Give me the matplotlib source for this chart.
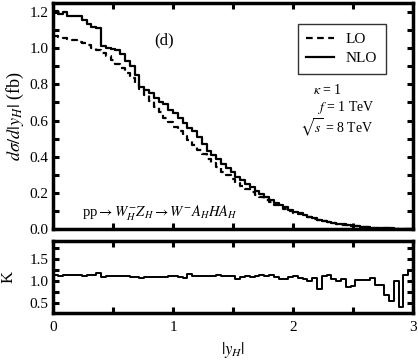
import numpy as np
import matplotlib
matplotlib.use("Agg")
import matplotlib.pyplot as plt
from matplotlib.ticker import MultipleLocator, FormatStrFormatter

plt.rcParams['font.family'] = ['Liberation Serif', 'DejaVu Serif']
plt.rcParams['mathtext.fontset'] = 'stix'

# bin edges in |y_H| (75 bins of 0.04)
edges = np.round(np.linspace(0, 3.0, 76), 3)

# d sigma / d|y_H| (fb)
nlo = [1.205, 1.19, 1.20, 1.175, 1.175, 1.175, 1.155, 1.135, 1.115, 1.11,
       1.01, 1.00, 0.995, 0.99, 0.965, 0.93, 0.90, 0.85, 0.785, 0.77,
       0.75, 0.725, 0.705, 0.69, 0.66, 0.64, 0.615, 0.585, 0.56, 0.54,
       0.51, 0.47, 0.43, 0.41, 0.385, 0.36, 0.34, 0.315, 0.29, 0.27,
       0.25, 0.232, 0.213, 0.195, 0.178, 0.162, 0.147, 0.133, 0.12, 0.108,
       0.097, 0.087, 0.077, 0.068, 0.060, 0.053, 0.046, 0.040, 0.035, 0.030,
       0.026, 0.022, 0.019, 0.016, 0.013, 0.011, 0.009, 0.0075, 0.006, 0.005,
       0.004, 0.003, 0.0025, 0.002, 0.0015]
lo = [1.066, 1.062, 1.057, 1.05, 1.043, 1.035, 1.026, 1.015, 1.002, 0.988,
      0.972, 0.955, 0.936, 0.914, 0.89, 0.865, 0.835, 0.805, 0.772, 0.74,
      0.708, 0.677, 0.646, 0.616, 0.59, 0.565, 0.54, 0.515, 0.49, 0.465,
      0.44, 0.414, 0.388, 0.364, 0.341, 0.318, 0.297, 0.277, 0.257, 0.239,
      0.221, 0.205, 0.19, 0.175, 0.161, 0.148, 0.136, 0.124, 0.113, 0.101,
      0.091, 0.082, 0.073, 0.065, 0.058, 0.051, 0.045, 0.039, 0.034, 0.029,
      0.025, 0.021, 0.018, 0.015, 0.013, 0.011, 0.009, 0.0075, 0.006, 0.005,
      0.004, 0.003, 0.0025, 0.002, 0.0015]
# K factor panel
kfac = [1.13, 1.12, 1.13, 1.14, 1.13, 1.14, 1.12, 1.13, 1.14, 1.18,
        1.10, 1.11, 1.11, 1.12, 1.12, 1.11, 1.10, 1.09, 1.06, 1.09,
        1.10, 1.10, 1.09, 1.10, 1.11, 1.12, 1.10, 1.08, 1.16, 1.11,
        1.12, 1.12, 1.11, 1.12, 1.13, 1.12, 1.11, 1.12, 1.04, 1.10,
        1.11, 1.10, 1.12, 1.13, 1.12, 1.13, 1.10, 1.05, 1.05, 1.10,
        1.12, 1.08, 1.05, 1.00, 1.07, 0.83, 1.12, 1.14, 1.05, 1.00,
        1.05, 0.86, 0.88, 1.03, 1.03, 1.03, 1.08, 0.92, 0.92, 0.68,
        0.55, 1.00, 0.42, 1.14, 1.25]


def steps(vals):
    return np.append(vals, vals[-1])


fig = plt.figure(figsize=(4.18, 3.62), dpi=100)
ax1 = fig.add_axes([0.127, 0.367, 0.861, 0.625])
ax2 = fig.add_axes([0.127, 0.135, 0.861, 0.199])

ax1.step(edges, steps(lo), where='post', color='black', lw=1.6, ls=(0, (3, 2)))
ax1.step(edges, steps(nlo), where='post', color='black', lw=1.6)
ax2.step(edges, steps(kfac), where='post', color='black', lw=1.4)

ax1.set_xlim(0, 3)
ax1.set_ylim(0, 1.25)
ax2.set_xlim(0, 3)
ax2.set_ylim(0.28, 1.9)

for ax in (ax1, ax2):
    ax.xaxis.set_major_locator(MultipleLocator(1))
    ax.xaxis.set_minor_locator(MultipleLocator(0.5))
    ax.tick_params(which='both', direction='in', top=True, right=True,
                   width=2.2, length=4, labelsize=11)
    for s in ax.spines.values():
        s.set_linewidth(2.5)

ax1.yaxis.set_major_locator(MultipleLocator(0.2))
ax1.yaxis.set_minor_locator(MultipleLocator(0.1))
ax1.yaxis.set_major_formatter(FormatStrFormatter('%.1f'))
ax1.tick_params(labelbottom=False)
ax2.yaxis.set_major_locator(MultipleLocator(0.5))
ax2.yaxis.set_minor_locator(MultipleLocator(0.25))
ax2.yaxis.set_major_formatter(FormatStrFormatter('%.1f'))
ax2.tick_params(axis='x', pad=6)

ax1.set_ylabel(r'$d\sigma/d|y_H|$ (fb)', fontsize=13, labelpad=2)
ax2.set_ylabel('K', fontsize=12, labelpad=9)
ax2.set_xlabel(r'$|y_H|$', fontsize=12, labelpad=4)

ax1.text(0.84, 1.02, '(d)', fontsize=12)
leg = ax1.legend(['LO', 'NLO'], loc='upper right', bbox_to_anchor=(0.945, 0.94),
                 fontsize=11, frameon=True, fancybox=False, edgecolor='black',
                 handlelength=1.8, borderpad=0.55, labelspacing=0.35)
leg.get_frame().set_linewidth(1.0)
ax1.text(2.17, 0.745, r'$\kappa$ = 1', fontsize=10)
ax1.text(2.2, 0.65, r'$f$ = 1 TeV', fontsize=10)
ax1.text(2.06, 0.53, r'$\sqrt{s}$ = 8 TeV', fontsize=10)
ax1.text(0.24, 0.07, r'pp$\rightarrow W_H^{-}Z_H \rightarrow W^{-}A_H H A_H$',
         fontsize=10.5)

fig.savefig('out.png', dpi=100)
